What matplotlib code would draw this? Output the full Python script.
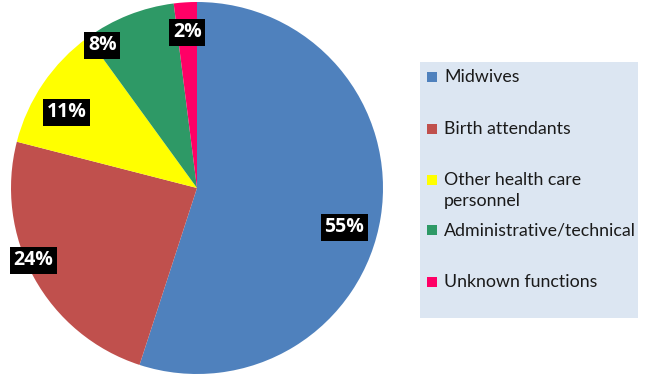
import matplotlib
matplotlib.use("Agg")
import matplotlib.pyplot as plt
import matplotlib.patches as mpatches
import numpy as np

categories = ["Midwives", "Birth attendants", "Other health care\npersonnel",
              "Administrative/technical", "Unknown functions"]
values = [55, 24, 11, 8, 2]
colors = ["#4f81bd", "#c0504d", "#ffff00", "#2e9966", "#ff0066"]

# label layout: (distance fraction, angle offset in degrees from wedge middle)
label_layout = [(0.82, -6), (0.96, -5), (0.81, 4), (0.92, 12), (0.84, 0)]

W, H = 646, 379
fig = plt.figure(figsize=(W / 100, H / 100), dpi=100)
fig.patch.set_facecolor("white")

cx, cy, r = 197, 188, 186
ax = fig.add_axes([(cx - r) / W, (H - cy - r) / H, 2 * r / W, 2 * r / H])
wedges, _ = ax.pie(values, colors=colors, startangle=90, counterclock=False,
                   radius=1, wedgeprops=dict(linewidth=0))
ax.set_xlim(-1, 1)
ax.set_ylim(-1, 1)
ax.set_aspect("equal")
ax.axis("off")

for w, v, (d, off) in zip(wedges, values, label_layout):
    mid = np.deg2rad((w.theta1 + w.theta2) / 2 + off)
    ax.text(d * np.cos(mid), d * np.sin(mid), f"{v}%", ha="center", va="center",
            color="white", fontsize=14, fontweight="bold", family=["Open Sans", "DejaVu Sans"],
            bbox=dict(boxstyle="square,pad=0.18", fc="black", ec="none"))

# legend box
lx0, ly0, lx1, ly1 = 420, 62, 638, 318
fig.patches.append(mpatches.Rectangle((lx0 / W, 1 - ly1 / H), (lx1 - lx0) / W, (ly1 - ly0) / H,
                                      transform=fig.transFigure, fc="#dce6f2", ec="none"))
entry_y = [77, 129, 180, 230, 282]
for lab, col, y in zip(categories, colors, entry_y):
    s = 10
    fig.patches.append(mpatches.Rectangle((427 / W, 1 - (y + s / 2) / H), s / W, s / H,
                                          transform=fig.transFigure, fc=col, ec="none"))
    fig.text(444 / W, 1 - (y - 8) / H, lab, ha="left", va="top", fontsize=12.8,
             color="#1a1a1a", family=["Lato", "DejaVu Sans"], linespacing=1.4)

fig.savefig("out.png", dpi=100)
